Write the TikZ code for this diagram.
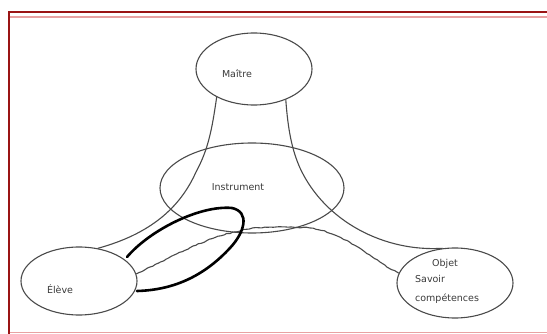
\documentclass[tikz,border=0pt]{standalone}
\usepackage{fontspec}
\setmainfont{DejaVu Sans}
\usetikzlibrary{shapes.geometric,decorations.pathmorphing}
\definecolor{frame}{HTML}{9A1414}
\definecolor{palered}{HTML}{E8A2A2}
\definecolor{ink}{HTML}{4A4A4A}
\definecolor{txt}{HTML}{3A3A3A}
\begin{document}
\begin{tikzpicture}[x=1pt,y=-1pt,
  pole/.style={draw=ink, line width=1.1pt, ellipse, inner sep=0pt},
  link/.style={draw=ink, line width=1.1pt},
  wavy/.style={decorate, decoration={random steps, segment length=3pt, amplitude=0.5pt}},
  lbl/.style={text=txt, font=\fontsize{9.5}{11}\selectfont, inner sep=0pt},
  loopline/.style={draw=black, line width=2.6pt, line cap=round}]
\pgfmathsetseed{7}
\useasboundingbox (0,0) rectangle (547,334);
\fill[white] (0,0) rectangle (547,334);
% frame
\draw[frame, line width=2pt] (8.5,334) -- (8.5,12.5) -- (547,12.5);
\draw[palered, line width=1.3pt] (9.5,17) -- (547,17);
\draw[palered, line width=1.3pt] (9.5,332.5) -- (547,332.5);
% poles
\node[pole, minimum width=116pt, minimum height=72pt] (ma) at (254,69) {};
\node[pole, minimum width=184pt, minimum height=90pt] (in) at (252,188) {};
\node[pole, minimum width=116pt, minimum height=68pt] (el) at (79,281) {};
\node[pole, minimum width=116pt, minimum height=70pt] (ob) at (455,283) {};
% labels
\node[lbl] (tma) at (237,74) {Maître};
\node[lbl] (tin) at (238,187) {Instrument};
\node[lbl] (tel) at (60,289) {Élève};
\node[lbl] (tob) at (445,264) {Objet};
\node[lbl, anchor=west] (tsa) at (415,279) {Savoir};
\node[lbl, anchor=west] (tco) at (415,299) {compétences};
% links
\coordinate (l1) at (196,172);
\coordinate (r1) at (300,168);
\coordinate (b1) at (235,232);
\coordinate (b2) at (310,228);
\draw[link] (ma.217) .. controls (212,130) and (208,150) .. (l1)
  .. controls (180,208) and (150,234) .. (el.60);
\draw[link] (ma.316) .. controls (288,130) and (292,150) .. (r1)
  .. controls (325,222) and (385,252) .. (ob.110);
\draw[link, wavy] (el.7) .. controls (170,258) and (205,238) .. (b1)
  .. controls (255,226) and (285,226) .. (b2)
  .. controls (345,232) and (375,262) .. (ob.170);
% thick loop
\draw[loopline] (127,257) .. controls (150,230) and (200,205) .. (232,208)
  .. controls (250,212) and (245,232) .. (230,248)
  .. controls (205,275) and (175,290) .. (137,291);
\end{tikzpicture}
\end{document}
